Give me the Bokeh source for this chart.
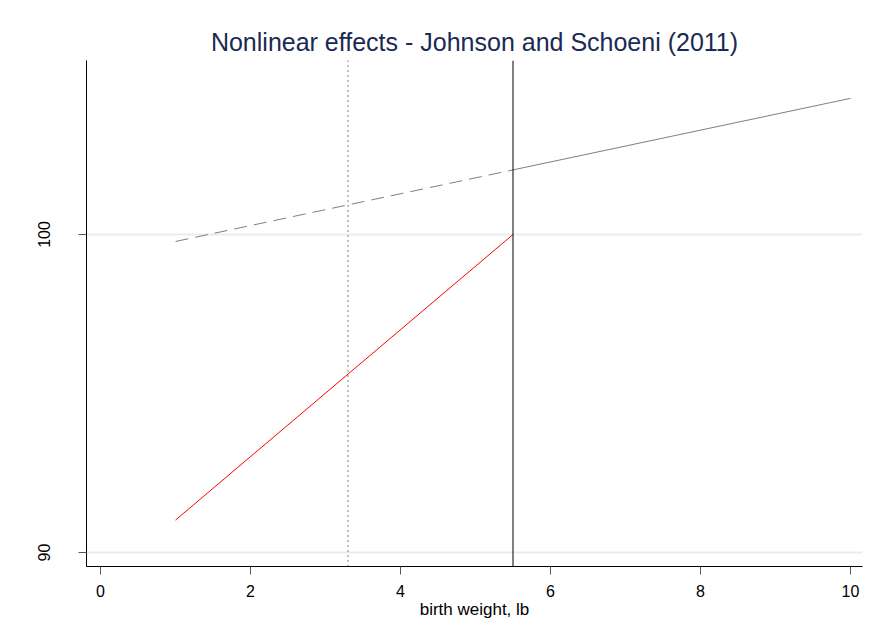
from bokeh.plotting import figure
from bokeh.models import Span, FixedTicker, Range1d
from bokeh.embed import file_html
from bokeh.resources import INLINE

# Data
x_dashed = [1.0, 5.5]
y_dashed = [99.78, 102.03]
x_solid = [5.5, 10.0]
y_solid = [102.03, 104.28]
x_red = [1.0, 5.5]
y_red = [91.02, 100.0]
vline_dotted = 3.3
vline_solid = 5.5
xticks = [0, 2, 4, 6, 8, 10]
yticks = [90, 100]

FONT = "Liberation Sans"

p = figure(width=867, height=632, output_backend="svg", toolbar_location=None,
           x_range=Range1d(-0.187, 10.16), y_range=Range1d(89.56, 105.47),
           min_border_left=86, min_border_right=5, min_border_top=60, min_border_bottom=66,
           title="Nonlinear effects - Johnson and Schoeni (2011)")

p.title.align = "center"
p.title.text_font = FONT
p.title.text_font_size = "25px"
p.title.text_font_style = "normal"
p.title.text_color = "#1a2a52"
p.title.offset = 0
p.outline_line_color = None
p.background_fill_color = "white"
p.border_fill_color = "white"

p.xgrid.visible = False
p.ygrid.ticker = FixedTicker(ticks=yticks)
p.ygrid.grid_line_color = "#e3eeef"
p.ygrid.grid_line_width = 2

p.xaxis.ticker = FixedTicker(ticks=xticks)
p.yaxis.ticker = FixedTicker(ticks=yticks)
p.xaxis.axis_label = "birth weight, lb"
for ax in (p.xaxis[0], p.yaxis[0]):
    ax.axis_line_color = "black"
    ax.axis_line_width = 1
    ax.major_tick_line_color = "#555555"
    ax.major_tick_in = 0
    ax.minor_tick_line_color = None
    ax.major_label_text_font = FONT
    ax.major_label_text_font_size = "16px"
    ax.major_label_text_color = "black"
    ax.axis_label_text_font = FONT
    ax.axis_label_text_font_size = "17px"
    ax.axis_label_text_font_style = "normal"
    ax.axis_label_text_color = "black"
p.xaxis.major_tick_out = 8
p.yaxis.major_tick_out = 8
p.xaxis.major_label_standoff = 10
p.xaxis.axis_label_standoff = 0
p.yaxis.major_label_orientation = "parallel"
p.yaxis.major_label_standoff = 28

p.add_layout(Span(location=vline_dotted, dimension="height", line_color="black",
                  line_width=1, line_dash="1 4"))
p.add_layout(Span(location=vline_solid, dimension="height", line_color="black",
                  line_width=1))

p.line(x_dashed, y_dashed, line_color="#7f7f7f", line_width=1, line_dash="13 7")
p.line(x_solid, y_solid, line_color="#7f7f7f", line_width=1)
p.line(x_red, y_red, line_color="#ff0000", line_width=1)

open("out.html", "w").write(file_html(p, INLINE))
